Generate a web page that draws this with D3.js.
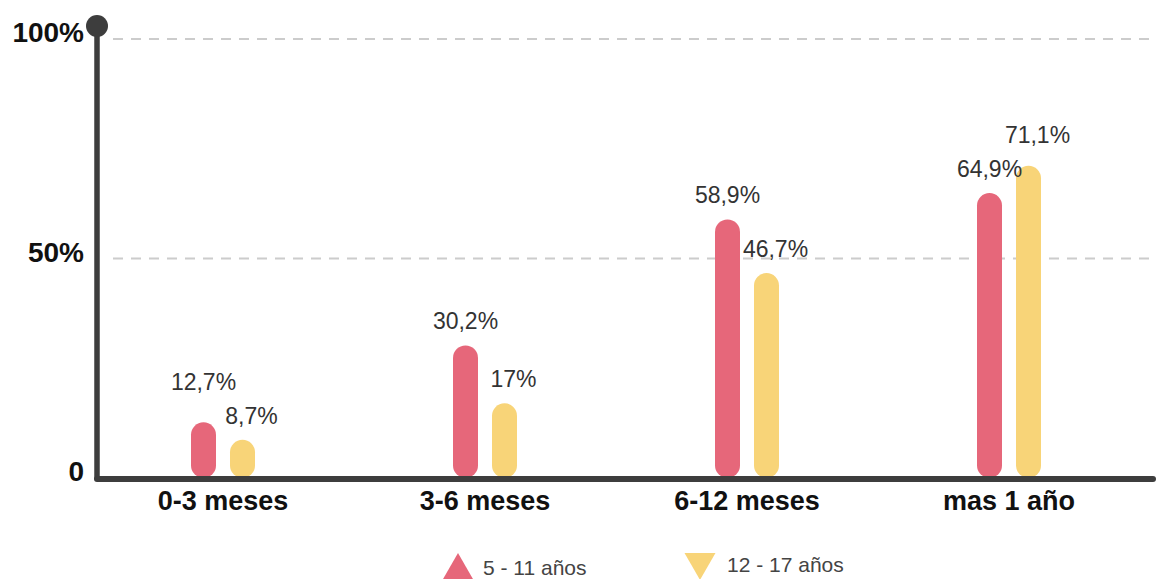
<!DOCTYPE html>
<html lang="es">
<head>
<meta charset="utf-8">
<script src="https://cdn.jsdelivr.net/npm/d3@7"></script>
<style>
  html, body { margin: 0; padding: 0; background: #fff; }
  svg { display: block; }
</style>
</head>
<body>
<svg id="chart" width="1159" height="579"></svg>
<script>
// Duración por tramo de edad (porcentaje)
const categories = ["0-3 meses", "3-6 meses", "6-12 meses", "mas 1 año"];
const series = ["5 - 11 años", "12 - 17 años"];
const valuesNinos = [12.7, 30.2, 58.9, 64.9];
const valuesAdolescentes = [8.7, 17, 46.7, 71.1];
const valueLabelsNinos = ["12,7%", "30,2%", "58,9%", "64,9%"];
const valueLabelsAdolescentes = ["8,7%", "17%", "46,7%", "71,1%"];
const tickValues = [0, 50, 100];
const tickLabels = ["0", "50%", "100%"];

const colors = { "5 - 11 años": "#E6677A", "12 - 17 años": "#F8D478" };
const axisColor = "#3d3d3d";
const fontFamily = "'Liberation Sans', Arial, sans-serif";

const svg = d3.select("#chart");

const axisX = 97;
const y = d3.scaleLinear().domain([0, 100]).range([478, 39]);
const x0 = d3.scaleBand().domain(categories).range([92, 1140]).padding(0);
const x1 = d3.scaleBand().domain(series).range([-32, 32]).paddingInner(14 / 39).paddingOuter(0);

// Value labels: the second series' label sits slightly to the right of its bar;
// when the two labels of a group would collide, the taller bar's label is lifted.
const labelGap = 16, labelStep = 34, labelWidth = 66;
const rows = categories.map((c, i) => {
  const bars = [
    { key: series[0], value: valuesNinos[i], label: valueLabelsNinos[i], dx: 0 },
    { key: series[1], value: valuesAdolescentes[i], label: valueLabelsAdolescentes[i], dx: 9 }
  ];
  bars.forEach(b => {
    b.lx = x1(b.key) + x1.bandwidth() / 2 + b.dx;
    b.ly = y(b.value) - labelGap;
  });
  const [a, b] = bars;
  if (Math.abs(a.lx - b.lx) < labelWidth && Math.abs(a.ly - b.ly) < labelStep) {
    const hi = a.value >= b.value ? a : b;
    const lo = hi === a ? b : a;
    hi.ly = Math.min(hi.ly, lo.ly - labelStep);
  }
  return { category: c, bars };
});

// Dashed gridlines at the non-zero ticks
svg.append("g")
  .selectAll("line")
  .data(tickValues.filter(v => v > 0))
  .join("line")
  .attr("x1", 113).attr("x2", 1156)
  .attr("y1", d => y(d)).attr("y2", d => y(d))
  .attr("stroke", "#cccccc")
  .attr("stroke-width", 2.2)
  .attr("stroke-dasharray", "10 8");

// Tick labels
svg.append("g")
  .selectAll("text")
  .data(tickValues)
  .join("text")
  .attr("x", 84)
  .attr("y", d => y(d) + 3)
  .attr("text-anchor", "end")
  .attr("font-family", fontFamily)
  .attr("font-weight", 700)
  .attr("font-size", 28)
  .attr("fill", "#111")
  .text((d, i) => tickLabels[i]);

// Bars (pill shaped)
const groups = svg.append("g")
  .selectAll("g")
  .data(rows)
  .join("g")
  .attr("transform", d => `translate(${x0(d.category) + x0.bandwidth() / 2},0)`);

groups.selectAll("rect")
  .data(d => d.bars)
  .join("rect")
  .attr("x", d => x1(d.key))
  .attr("width", x1.bandwidth())
  .attr("y", d => y(d.value))
  .attr("height", d => y(0) - y(d.value))
  .attr("rx", x1.bandwidth() / 2)
  .attr("fill", d => colors[d.key]);

groups.selectAll("text")
  .data(d => d.bars)
  .join("text")
  .attr("x", d => d.lx)
  .attr("y", d => d.ly)
  .attr("text-anchor", "middle")
  .attr("font-family", fontFamily)
  .attr("font-size", 23)
  .attr("fill", "#333")
  .text(d => d.label);

// Axes
svg.append("line")
  .attr("x1", axisX).attr("x2", axisX)
  .attr("y1", 26).attr("y2", 479)
  .attr("stroke", axisColor)
  .attr("stroke-width", 5.5);
svg.append("circle")
  .attr("cx", axisX).attr("cy", 26)
  .attr("r", 11)
  .attr("fill", axisColor);
svg.append("line")
  .attr("x1", axisX).attr("x2", 1153)
  .attr("y1", 479).attr("y2", 479)
  .attr("stroke", axisColor)
  .attr("stroke-width", 6)
  .attr("stroke-linecap", "round");

// Category labels
svg.append("g")
  .selectAll("text")
  .data(categories)
  .join("text")
  .attr("x", d => x0(d) + x0.bandwidth() / 2)
  .attr("y", 510)
  .attr("text-anchor", "middle")
  .attr("font-family", fontFamily)
  .attr("font-weight", 700)
  .attr("font-size", 27)
  .attr("fill", "#111")
  .text(d => d);

// Legend
const legendItems = [
  { key: series[0], type: "up", tx: 458, ty: 571, textX: 483, textY: 575 },
  { key: series[1], type: "down", tx: 700, ty: 562, textX: 727, textY: 572 }
];
const tri = d3.symbol().type(d3.symbolTriangle).size(416);
const legend = svg.append("g").selectAll("g").data(legendItems).join("g");
legend.append("path")
  .attr("d", tri)
  .attr("transform", d => `translate(${d.tx},${d.ty}) rotate(${d.type === "down" ? 180 : 0})`)
  .attr("fill", d => colors[d.key]);
legend.append("text")
  .attr("x", d => d.textX)
  .attr("y", d => d.textY)
  .attr("font-family", fontFamily)
  .attr("font-size", 21)
  .attr("fill", "#444")
  .text(d => d.key);
</script>
</body>
</html>
